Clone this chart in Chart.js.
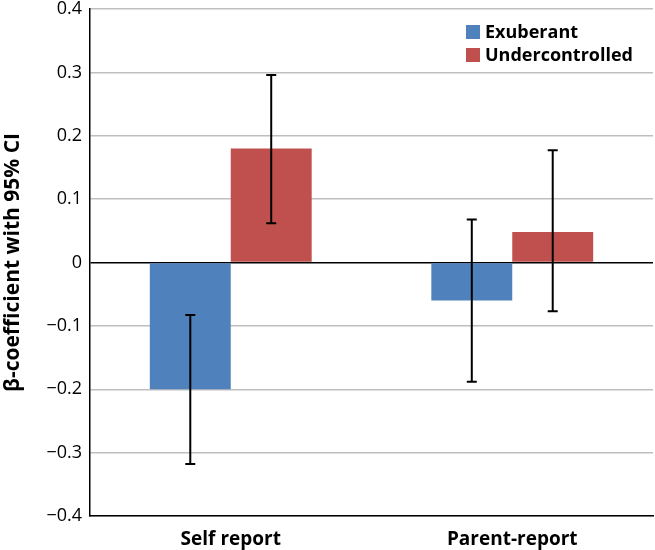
<!DOCTYPE html>
<html>
<head>
<meta charset="utf-8">
<script src="https://cdn.jsdelivr.net/npm/chart.js@4"></script>
<style>
  body { margin: 0; background: #fff; }
  #wrap { width: 655px; height: 550px; }
</style>
</head>
<body>
<div id="wrap"><canvas id="betaChart" width="655" height="550"></canvas></div>
<script>
// Categories and series
const categories = ['Self report', 'Parent-report'];
const exuberant = [-0.20, -0.06];
const exuberantLow = [-0.318, -0.188];
const exuberantHigh = [-0.083, 0.068];
const undercontrolled = [0.18, 0.048];
const undercontrolledLow = [0.062, -0.077];
const undercontrolledHigh = [0.296, 0.177];
const yTicks = [-0.4, -0.3, -0.2, -0.1, 0, 0.1, 0.2, 0.3, 0.4];

const font = "'Open Sans', 'DejaVu Sans', sans-serif";

// Draw the CI whiskers from the low/high arrays
const errorBars = {
    id: 'errorBars',
    afterDatasetsDraw(chart) {
        const ctx = chart.ctx;
        const y = chart.scales.y;
        chart.data.datasets.forEach((ds, i) => {
            const meta = chart.getDatasetMeta(i);
            meta.data.forEach((bar, j) => {
                const top = y.getPixelForValue(ds.ciHigh[j]);
                const bottom = y.getPixelForValue(ds.ciLow[j]);
                ctx.save();
                ctx.strokeStyle = '#000';
                ctx.lineWidth = 2;
                ctx.beginPath();
                ctx.moveTo(bar.x, top);
                ctx.lineTo(bar.x, bottom);
                ctx.moveTo(bar.x - 5, top);
                ctx.lineTo(bar.x + 5, top);
                ctx.moveTo(bar.x - 5, bottom);
                ctx.lineTo(bar.x + 5, bottom);
                ctx.stroke();
                ctx.restore();
            });
        });
    }
};

// Legend inside the plot, top right
const innerLegend = {
    id: 'innerLegend',
    afterDraw(chart) {
        const ctx = chart.ctx;
        ctx.save();
        ctx.font = 'bold 18px ' + font;
        ctx.textBaseline = 'middle';
        chart.data.datasets.forEach((ds, i) => {
            const cy = 32 + i * 23;
            ctx.fillStyle = ds.backgroundColor;
            ctx.fillRect(466, cy - 7, 14, 14);
            ctx.fillStyle = '#000';
            ctx.fillText(ds.label, 485, cy + 1);
        });
        ctx.restore();
    }
};

new Chart(document.getElementById('betaChart'), {
    type: 'bar',
    data: {
        labels: categories,
        datasets: [
            { label: 'Exuberant', data: exuberant, ciLow: exuberantLow, ciHigh: exuberantHigh,
              backgroundColor: '#4F81BD' },
            { label: 'Undercontrolled', data: undercontrolled, ciLow: undercontrolledLow, ciHigh: undercontrolledHigh,
              backgroundColor: '#C0504D' }
        ]
    },
    options: {
        responsive: false,
        animation: false,
        layout: { padding: { top: 9, right: 2, left: 0, bottom: 0 } },
        datasets: { bar: { categoryPercentage: 0.575, barPercentage: 1.0 } },
        plugins: { legend: { display: false }, tooltip: { enabled: false } },
        scales: {
            x: {
                grid: { display: false },
                border: { display: true, color: '#000', width: 1.5 },
                ticks: { color: '#000', font: { family: font, size: 19, weight: 'bold' }, padding: 4 },
                afterFit(scale) { scale.height = 34; scale.paddingLeft = 0; scale.paddingRight = 0; }
            },
            y: {
                min: -0.4,
                max: 0.4,
                afterBuildTicks(scale) { scale.ticks = yTicks.map(v => ({ value: v })); },
                grid: {
                    drawTicks: false,
                    color: ctx => ctx.tick && ctx.tick.value === 0 ? '#000' : '#BFBFBF',
                    lineWidth: 1.5
                },
                border: { display: true, color: '#000', width: 1.5 },
                ticks: {
                    color: '#000',
                    padding: 8,
                    font: { family: font, size: 18 },
                    callback: v => v === 0 ? '0' : (v < 0 ? '\u2212' : '') + Math.abs(v).toFixed(1)
                },
                title: {
                    display: true,
                    text: 'β-coefficient with 95% CI',
                    color: '#000',
                    font: { family: font, size: 21, weight: 'bold' },
                    padding: { top: 0, bottom: 4 }
                },
                afterFit(scale) { scale.width = 90; scale.paddingTop = 0; scale.paddingBottom = 0; }
            }
        }
    },
    plugins: [errorBars, innerLegend]
});
</script>
</body>
</html>
